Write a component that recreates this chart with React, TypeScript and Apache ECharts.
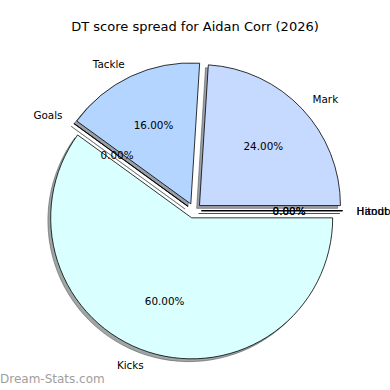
import React, { useEffect, useRef } from "react";
import * as echarts from "echarts";

const categories = ["Hitout", "Handball", "Mark", "Tackle", "Goals", "Kicks"];
const values = [0, 0, 24, 16, 0, 60];
const colors = ["#cfe0ff", "#d0e8ff", "#c6d9ff", "#b4d5ff", "#c8e4ff", "#d9ffff"];
const titleText = "DT score spread for Aidan Corr (2026)";
const watermark = "Dream-Stats.com";

const CX = 194;
const CY = 210.7;
const R = 141;
const EXPLODE = 7.5;
const SHADOW_D = 2.8;

function shadowOf(hex: string) {
  const n = parseInt(hex.slice(1), 16);
  const r = Math.round(((n >> 16) & 255) * 0.3);
  const g = Math.round(((n >> 8) & 255) * 0.3);
  const b = Math.round((n & 255) * 0.3);
  return `rgba(${r},${g},${b},0.5)`;
}

export default function App() {
  const ref = useRef<HTMLDivElement>(null);
  useEffect(() => {
    if (!ref.current) return;
    const chart = echarts.init(ref.current, null, { renderer: "svg" });
    const total = values.reduce((a, b) => a + b, 0);
    const common = {
      type: "pie",
      startAngle: 0,
      clockwise: false,
      selectedMode: "multiple",
      selectedOffset: EXPLODE,
      avoidLabelOverlap: false,
      minShowLabelAngle: 0,
      silent: true,
      emphasis: { disabled: true },
      labelLayout: { hideOverlap: false },
    };
    chart.setOption({
      animation: false,
      backgroundColor: "#ffffff",
      title: {
        text: titleText,
        left: "center",
        top: 15,
        textStyle: {
          fontFamily: "DejaVu Sans",
          fontSize: 13,
          fontWeight: "normal",
          color: "#000",
        },
      },
      graphic: [
        {
          type: "text",
          left: 0,
          top: 373,
          style: {
            text: watermark,
            fontFamily: "DejaVu Sans",
            fontSize: 12,
            fill: "#a0a0a0",
          },
        },
      ],
      series: [
        {
          ...common,
          center: [CX - SHADOW_D, CY + SHADOW_D],
          radius: [0, R],
          label: { show: false },
          labelLine: { show: false },
          data: categories.map((name, i) => ({
            name,
            value: values[i],
            selected: true,
            itemStyle: {
              color: shadowOf(colors[i]),
              borderColor: shadowOf(colors[i]),
              borderWidth: 1,
            },
          })),
        },
        {
          ...common,
          center: [CX, CY],
          radius: [0, R],
          itemStyle: { borderColor: "#000", borderWidth: 0.8 },
          label: {
            show: true,
            position: "outside",
            formatter: "{b}",
            fontFamily: "DejaVu Sans",
            fontSize: 10.4,
            color: "#000",
            distanceToLabelLine: 0,
          },
          labelLine: { show: false, length: R * 0.1, length2: 0 },
          data: categories.map((name, i) => ({
            name,
            value: values[i],
            selected: true,
            itemStyle: { color: colors[i] },
          })),
        },
        {
          ...common,
          center: [CX, CY],
          radius: [0, R * 1.2],
          itemStyle: { color: "rgba(0,0,0,0)", borderWidth: 0 },
          label: {
            show: true,
            position: "inside",
            formatter: (p: any) => ((p.value / total) * 100).toFixed(2) + "%",
            fontFamily: "DejaVu Sans",
            fontSize: 10.4,
            color: "#000",
          },
          labelLine: { show: false },
          data: categories.map((name, i) => ({
            name,
            value: values[i],
            selected: true,
            itemStyle: { color: "rgba(0,0,0,0)" },
          })),
        },
      ],
    });
    return () => chart.dispose();
  }, []);
  return (
    <div
      ref={ref}
      style={{ position: "fixed", left: 0, top: 0, width: 390, height: 390, background: "#fff" }}
    />
  );
}
